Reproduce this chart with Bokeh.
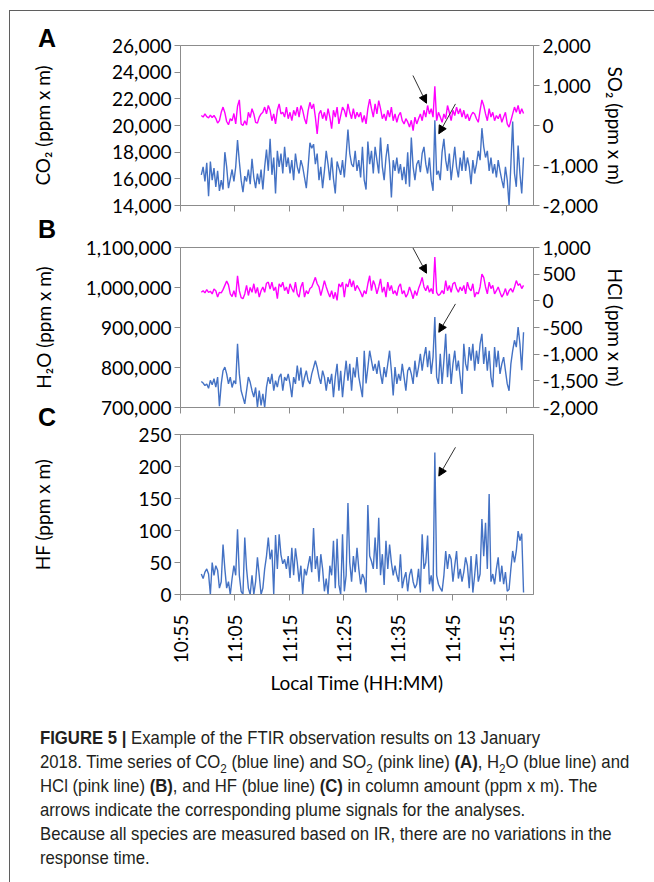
import pandas as pd
from math import pi
from bokeh.plotting import figure
from bokeh.models import (Range1d, LinearAxis, FixedTicker, NumeralTickFormatter,
                          DatetimeTickFormatter, Arrow, NormalHead, Div,
                          ColumnDataSource)
from bokeh.layouts import column
from bokeh.embed import file_html
from bokeh.resources import INLINE

DATE = "2018-01-13"

TIME = [
    "10:58:50",
    "10:59:10", "10:59:30", "10:59:50",
    "11:00:10", "11:00:30", "11:00:50",
    "11:01:10", "11:01:30", "11:01:50",
    "11:02:10", "11:02:30", "11:02:50",
    "11:03:10", "11:03:30", "11:03:50",
    "11:04:10", "11:04:30", "11:04:50",
    "11:05:10", "11:05:30", "11:05:50",
    "11:06:10", "11:06:30", "11:06:50",
    "11:07:10", "11:07:30", "11:07:50",
    "11:08:10", "11:08:30", "11:08:50",
    "11:09:10", "11:09:30", "11:09:50",
    "11:10:10", "11:10:30", "11:10:50",
    "11:11:10", "11:11:30", "11:11:50",
    "11:12:10", "11:12:30", "11:12:50",
    "11:13:10", "11:13:30", "11:13:50",
    "11:14:10", "11:14:30", "11:14:50",
    "11:15:10", "11:15:30", "11:15:50",
    "11:16:10", "11:16:30", "11:16:50",
    "11:17:10", "11:17:30", "11:17:50",
    "11:18:10", "11:18:30", "11:18:50",
    "11:19:10", "11:19:30", "11:19:50",
    "11:20:10", "11:20:30", "11:20:50",
    "11:21:10", "11:21:30", "11:21:50",
    "11:22:10", "11:22:30", "11:22:50",
    "11:23:10", "11:23:30", "11:23:50",
    "11:24:10", "11:24:30", "11:24:50",
    "11:25:10", "11:25:30", "11:25:50",
    "11:26:10", "11:26:30", "11:26:50",
    "11:27:10", "11:27:30", "11:27:50",
    "11:28:10", "11:28:30", "11:28:50",
    "11:29:10", "11:29:30", "11:29:50",
    "11:30:10", "11:30:30", "11:30:50",
    "11:31:10", "11:31:30", "11:31:50",
    "11:32:10", "11:32:30", "11:32:50",
    "11:33:10", "11:33:30", "11:33:50",
    "11:34:10", "11:34:30", "11:34:50",
    "11:35:10", "11:35:30", "11:35:50",
    "11:36:10", "11:36:30", "11:36:50",
    "11:37:10", "11:37:30", "11:37:50",
    "11:38:10", "11:38:30", "11:38:50",
    "11:39:10", "11:39:30", "11:39:50",
    "11:40:10", "11:40:30", "11:40:50",
    "11:41:10", "11:41:30", "11:41:50",
    "11:42:10", "11:42:30", "11:42:50",
    "11:43:10", "11:43:30", "11:43:50",
    "11:44:10", "11:44:30", "11:44:50",
    "11:45:10", "11:45:30", "11:45:50",
    "11:46:10", "11:46:30", "11:46:50",
    "11:47:10", "11:47:30", "11:47:50",
    "11:48:10", "11:48:30", "11:48:50",
    "11:49:10", "11:49:30", "11:49:50",
    "11:50:10", "11:50:30", "11:50:50",
    "11:51:10", "11:51:30", "11:51:50",
    "11:52:10", "11:52:30", "11:52:50",
    "11:53:10", "11:53:30", "11:53:50",
    "11:54:10", "11:54:30", "11:54:50",
    "11:55:10", "11:55:30", "11:55:50",
    "11:56:10", "11:56:30", "11:56:50",
    "11:57:10", "11:57:30", "11:57:50",
    "11:58:10",
]

CO2 = [
    16300, 16900, 15800, 17200, 14700, 17300, 15900, 16800, 15400, 16600,
    15100, 15900, 15200, 18000, 16900, 15300, 16000, 16700, 15800, 16900,
    18900, 17300, 15900, 15000, 16200, 15800, 16700, 15600, 17500, 16100,
    15300, 16400, 15600, 16700, 15200, 16900, 18200, 16600, 19000, 16300,
    17600, 14900, 18100, 16900, 17900, 16400, 18400, 16900, 17600, 16400,
    17400, 15900, 17900, 16900, 16400, 17400, 16900, 16100, 15300, 16900,
    18700, 18300, 18600, 17100, 17900, 15900, 16900, 15300, 16600, 18100,
    17100, 15900, 17600, 16000, 14900, 17300, 16800, 16300, 17400, 16100,
    17800, 19700, 17900, 17100, 16900, 18100, 16600, 17400, 16100, 18400,
    15900, 15200, 18800, 17100, 18100, 16400, 18400, 17400, 16400, 19100,
    16900, 15900, 17600, 18600, 17100, 14600, 17400, 16600, 17600, 16400,
    17100, 15900, 16900, 15600, 18000, 15400, 19100, 16900, 15900, 17100,
    17400, 16500, 17900, 18400, 17100, 16400, 17600, 15900, 15100, 20400,
    16300, 16600, 15900, 18000, 19000, 17400, 16600, 17900, 15900, 17100,
    18400, 16900, 16100, 17600, 16600, 18100, 16600, 17600, 16900, 15600,
    17400, 16400, 17100, 18100, 17400, 19800, 18400, 17600, 18100, 16600,
    17600, 16400, 17100, 16100, 17400, 16600, 15900, 15300, 16900, 15900,
    14000, 17100, 20300, 16400, 15400, 18500, 16400, 14900, 17600,
]

SO2 = [
    250, 210, 290, 220, 190, 260, 200, 250, 180, 60,
    120, 330, 460, 320, 100, 20, 170, 120, 300, 40,
    480, 640, 40, 0, 120, 10, 330, 200, 420, 290,
    80, 60, 210, 290, 330, 460, 290, 500, 380, 120,
    290, 40, 380, 540, 290, 330, 210, 460, 170, 330,
    120, 380, 250, 460, 210, 500, 380, 170, 40, 370,
    580, 420, 540, 210, -210, 290, 380, 170, 330, 120,
    420, 210, -80, 380, 210, 460, 40, 250, 460, 380,
    210, 540, 330, 170, 420, 170, 330, 210, 330, 80,
    250, 40, 420, 660, 420, 210, 540, 290, 620, 420,
    170, 290, 120, 380, 210, 460, 120, 290, 80, 250,
    330, 120, 40, 170, 90, -40, 130, -130, 210, 40,
    170, 290, 120, 380, 210, 500, 290, 420, 210, 980,
    120, 330, 210, 80, 290, 170, 500, 330, 120, 380,
    250, 460, 290, 420, 210, 380, 170, 290, 120, 250,
    330, 290, 170, 80, 380, 640, 500, 290, 120, 420,
    210, 330, 120, 250, 170, 290, 80, 210, 330, 40,
    -40, 120, 290, 460, 330, 500, 290, 420, 300,
]

H2O = [
    765000, 761000, 755000, 759000, 748000, 768000, 757000, 772000, 751000, 776000,
    703000, 759000, 792000, 801000, 784000, 759000, 776000, 750000, 767000, 759000,
    859000, 784000, 742000, 726000, 709000, 742000, 776000, 763000, 742000, 726000,
    750000, 701000, 742000, 705000, 734000, 700000, 751000, 776000, 759000, 784000,
    742000, 767000, 751000, 776000, 784000, 742000, 776000, 767000, 784000, 759000,
    726000, 776000, 759000, 805000, 767000, 800000, 751000, 775000, 792000, 767000,
    759000, 784000, 800000, 817000, 800000, 776000, 759000, 792000, 776000, 742000,
    776000, 759000, 784000, 726000, 776000, 809000, 742000, 792000, 726000, 776000,
    817000, 767000, 809000, 742000, 800000, 775000, 826000, 776000, 751000, 726000,
    842000, 760000, 800000, 842000, 817000, 792000, 809000, 784000, 817000, 784000,
    759000, 801000, 776000, 809000, 842000, 792000, 730000, 801000, 759000, 784000,
    767000, 809000, 776000, 742000, 792000, 801000, 784000, 759000, 817000, 776000,
    801000, 834000, 792000, 826000, 851000, 801000, 842000, 784000, 826000, 926000,
    776000, 759000, 834000, 759000, 817000, 884000, 776000, 834000, 759000, 809000,
    842000, 792000, 817000, 776000, 734000, 859000, 809000, 792000, 851000, 817000,
    859000, 792000, 842000, 809000, 859000, 884000, 809000, 851000, 792000, 842000,
    776000, 751000, 851000, 801000, 842000, 784000, 809000, 826000, 792000, 759000,
    742000, 809000, 842000, 868000, 851000, 901000, 859000, 793000, 888000,
]

HCL = [
    160, 190, 150, 210, 160, 180, 130, 220, 190, 70,
    160, 150, 210, 290, 370, 300, 130, 80, 190, 70,
    470, 190, 60, 40, 130, 290, 100, 250, 160, 320,
    140, 250, 70, 190, 260, 160, 330, 350, 220, 350,
    190, 260, 40, 320, 260, 350, 190, 260, 130, 320,
    230, 160, 350, 130, 70, 260, 350, 70, 190, 130,
    230, 260, 350, 440, 320, 260, 100, 230, 380, 260,
    160, 70, 190, 40, 160, 10, 320, 260, 350, 70,
    320, 260, 410, 260, 380, 190, 290, 230, 160, 70,
    190, 130, 320, 470, 190, 380, 290, 130, 260, 410,
    160, 260, 70, 350, 190, 290, 130, 190, 100, 260,
    320, 130, 190, 70, 130, 260, 160, 40, 190, 100,
    230, 320, 440, 260, 190, 290, 160, 230, 130, 820,
    160, 100, 130, 190, 130, 380, 190, 290, 160, 320,
    350, 230, 160, 260, 190, 290, 130, 350, 230, 190,
    320, 70, 160, 130, 260, 500, 440, 260, 130, 350,
    230, 290, 130, 190, 260, 160, 70, 130, 230, 100,
    190, 230, 160, 260, 380, 290, 320, 230, 290,
]

HF = [
    32, 25, 35, 40, 32, 0, 50, 30, 45, 38,
    10, 20, 78, 40, 10, 20, 0, 25, 45, 30,
    102, 30, 5, 0, 89, 40, 10, 0, 30, 0,
    20, 58, 30, 0, 10, 40, 60, 89, 55, 70,
    0, 93, 40, 94, 62, 48, 55, 40, 60, 26,
    73, 30, 72, 50, 20, 45, 0, 40, 30, 45,
    60, 35, 104, 40, 60, 20, 63, 40, 5, 25,
    0, 45, 30, 84, 10, 87, 15, 0, 94, 5,
    30, 143, 50, 20, 60, 35, 73, 40, 16, 32,
    25, 3, 140, 60, 52, 40, 89, 40, 120, 30,
    63, 15, 84, 40, 78, 50, 30, 45, 30, 20,
    63, 10, 25, 35, 5, 30, 40, 20, 10, 16,
    40, 3, 94, 40, 50, 92, 16, 30, 5, 222,
    30, 16, 10, 5, 30, 68, 40, 63, 55, 20,
    45, 68, 25, 40, 20, 35, 58, 45, 10, 60,
    3, 30, 63, 20, 32, 118, 60, 112, 40, 157,
    20, 32, 16, 40, 58, 20, 45, 16, 35, 5,
    8, 40, 68, 50, 68, 99, 84, 95, 3,
]

X_START, X_END = "10:55", "12:00"
X_TICK_LABELS = ["10:55", "11:05", "11:15", "11:25", "11:35", "11:45", "11:55"]
CO2_TICKS = [14000, 16000, 18000, 20000, 22000, 24000, 26000]
SO2_TICKS = [-2000, -1000, 0, 1000, 2000]
H2O_TICKS = [700000, 800000, 900000, 1000000, 1100000]
HCL_TICKS = [-2000, -1500, -1000, -500, 0, 500, 1000]
HF_TICKS = [0, 50, 100, 150, 200, 250]
PANEL_LETTERS = ["A", "B", "C"]

# arrows: (start time, start value, end time, end value) in left-axis units
ARROWS_A = [("11:37:48", 23750, "11:40:18", 21670), ("11:45:38", 21620, "11:42:34", 19380)]
ARROWS_B = [("11:37:48", 1099000, "11:40:18", 1035750), ("11:45:38", 959000, "11:42:34", 888000)]
ARROWS_C = [("11:45:38", 230, "11:42:34", 185)]

BLUE = "#4472C4"
PINK = "#FF00FF"
AXIS_COLOR = "#8c8c8c"
FONT = "Lato"
FS = "19px"


def ms(t):
    return pd.Timestamp(f"{DATE} {t}").value / 1e6


src = ColumnDataSource(dict(t=[ms(t) for t in TIME], co2=CO2, so2=SO2,
                            h2o=H2O, hcl=HCL, hf=HF))


def style_axis(ax, standoff=3):
    ax.axis_line_color = AXIS_COLOR
    ax.major_tick_line_color = AXIS_COLOR
    ax.major_tick_in = 0
    ax.major_tick_out = 6
    ax.minor_tick_line_color = None
    ax.major_label_text_font = FONT
    ax.major_label_text_font_size = FS
    ax.major_label_text_color = "black"
    ax.major_label_standoff = standoff
    ax.axis_label_text_font = FONT
    ax.axis_label_text_font_size = FS
    ax.axis_label_text_font_style = "normal"
    ax.axis_label_text_color = "black"


def make_panel(ylo, yhi, yticks, ylabel, lab_standoff, top, bottom, show_x_labels):
    p = figure(frame_width=353, frame_height=160, x_axis_type="datetime",
               x_range=Range1d(ms(X_START), ms(X_END)), y_range=Range1d(ylo, yhi),
               min_border_left=170, min_border_right=121, min_border_top=top,
               min_border_bottom=bottom, toolbar_location=None, output_backend="svg",
               background_fill_color="white", border_fill_color="white")
    p.grid.visible = False
    p.outline_line_color = AXIS_COLOR
    xa = p.xaxis[0]
    style_axis(xa, 14)
    xa.ticker = FixedTicker(ticks=[ms(t) for t in X_TICK_LABELS])
    xa.formatter = DatetimeTickFormatter(seconds="%H:%M", minsec="%H:%M", minutes="%H:%M",
                                         hourmin="%H:%M", hours="%H:%M")
    if not show_x_labels:
        xa.major_label_text_color = None
        xa.major_label_text_font_size = "1px"
        xa.major_label_standoff = 0
    ya = p.yaxis[0]
    style_axis(ya)
    ya.ticker = FixedTicker(ticks=yticks)
    ya.formatter = NumeralTickFormatter(format="0,0")
    ya.axis_label = ylabel
    ya.axis_label_standoff = lab_standoff
    return p


def add_right(p, lo, hi, ticks, label):
    p.extra_y_ranges = {"r": Range1d(lo, hi)}
    ax = LinearAxis(y_range_name="r", ticker=FixedTicker(ticks=ticks),
                    formatter=NumeralTickFormatter(format="0,0"), axis_label=label)
    style_axis(ax)
    ax.axis_label_standoff = 3
    p.add_layout(ax, "right")


def add_arrows(p, arrows):
    for t0, y0, t1, y1 in arrows:
        p.add_layout(Arrow(x_start=ms(t0), y_start=y0, x_end=ms(t1), y_end=y1,
                           line_color="#303030", line_width=1,
                           end=NormalHead(size=8, fill_color="black", line_color="black")))


# Panel A
pA = make_panel(CO2_TICKS[0], CO2_TICKS[-1], CO2_TICKS, "CO₂ (ppm x m)", 55, 34, 21, False)
add_right(pA, SO2_TICKS[0], SO2_TICKS[-1], SO2_TICKS, "SO₂ (ppm x m)")
pA.line("t", "co2", source=src, color=BLUE, line_width=1.4)
pA.line("t", "so2", source=src, color=PINK, line_width=1.4, y_range_name="r")
add_arrows(pA, ARROWS_A)

# Panel B
pB = make_panel(H2O_TICKS[0], H2O_TICKS[-1], H2O_TICKS, "H₂O (ppm x m)", 28, 21, 12, False)
add_right(pB, HCL_TICKS[0], HCL_TICKS[-1], HCL_TICKS, "HCl (ppm x m)")
pB.line("t", "h2o", source=src, color=BLUE, line_width=1.4)
pB.line("t", "hcl", source=src, color=PINK, line_width=1.4, y_range_name="r")
add_arrows(pB, ARROWS_B)

# Panel C
pC = make_panel(HF_TICKS[0], HF_TICKS[-1], HF_TICKS, "HF (ppm x m)", 81, 15, 122, True)
pC.line("t", "hf", source=src, color=BLUE, line_width=1.4)
pC.xaxis.major_label_orientation = pi / 2
pC.xaxis.axis_label = "Local Time (HH:MM)"
pC.xaxis.axis_label_standoff = 5
add_arrows(pC, ARROWS_C)

# panel letters (HTML, placed over the figures) + caption
LETTER_TOPS = [-690, -499, -311]
letters_html = "".join(
    f'<div style="position:absolute; left:28px; top:{top}px; z-index:20;'
    f' font-family:\'Liberation Sans\', Arial, sans-serif; font-weight:bold;'
    f' font-size:25px; line-height:25px; color:#000;">{L}</div>'
    for L, top in zip(PANEL_LETTERS, LETTER_TOPS)
)
SUB = '<sub style="font-size:70%;line-height:0">2</sub>'
caption_html = (
    '<div style="position:absolute; left:30px; top:10px; white-space:nowrap;'
    ' font-family:\'Liberation Sans\', Arial, sans-serif; font-size:19px; line-height:24px;'
    ' color:#231f20; transform:scaleX(0.88); transform-origin:0 0;">'
    '<b>FIGURE 5 |</b> Example of the FTIR observation results on 13 January<br>'
    f'2018. Time series of CO{SUB} (blue line) and SO{SUB} (pink line) <b>(A)</b>, '
    f'H{SUB}O (blue line) and<br>'
    'HCl (pink line) <b>(B)</b>, and HF (blue line) <b>(C)</b> in column amount (ppm x m). The<br>'
    'arrows indicate the corresponding plume signals for the analyses.<br>'
    'Because all species are measured based on IR, there are no variations in the<br>'
    'response time.</div>'
)
cap = Div(text='<div style="position:relative; width:644px; height:166px;">'
               + letters_html + caption_html + '</div>',
          width=644, height=166, margin=(0, 0, 0, 0),
          styles={"overflow": "visible"})

layout = column(pA, pB, pC, cap, spacing=0, margin=(10, 0, 0, 9),
                styles={"border-top": "1px solid #5f5f5f", "border-left": "1px solid #5f5f5f"})

with open("out.html", "w") as f:
    f.write(file_html(layout, INLINE))
